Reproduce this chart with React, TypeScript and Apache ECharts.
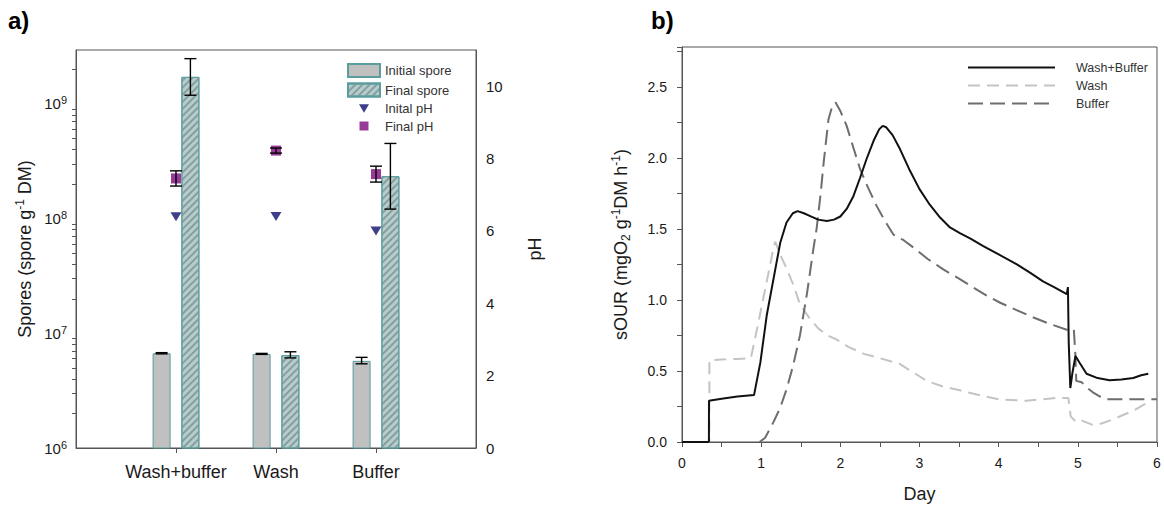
import React, { useEffect, useRef } from "react";
import * as echarts from "echarts";

// ---- Panel a: spore counts (log axis) and pH (right axis) ----
const CATEGORIES = ["Wash+buffer", "Wash", "Buffer"];
const INITIAL_SPORE = [6.7e6, 6.6e6, 5.75e6];
const INITIAL_SPORE_ERR = [
  [6.62e6, 6.78e6],
  [6.55e6, 6.68e6],
  [5.42e6, 6.17e6],
];
const FINAL_SPORE = [1.72e9, 6.45e6, 2.34e8];
const FINAL_SPORE_ERR = [
  [1.19e9, 2.48e9],
  [6.1e6, 6.9e6],
  [1.21e8, 4.52e8],
];
const INITIAL_PH = [6.39, 6.4, 6.0];
const FINAL_PH = [7.45, 8.22, 7.57];
const FINAL_PH_ERR = [
  [7.24, 7.66],
  [8.15, 8.29],
  [7.35, 7.79],
];
const SPORE_EXPONENTS = [6, 7, 8, 9];
const PH_LABELS = [0, 2, 4, 6, 8, 10];

// ---- Panel b: specific oxygen uptake rate over time ([day, sOUR]) ----
const WASH_BUFFER: number[][] = [
  [0, 0], [0.34, 0], [0.341, 0.29], [0.5, 0.305], [0.7, 0.32], [0.91, 0.33],
  [0.99, 0.56], [1.07, 0.89], [1.18, 1.22], [1.24, 1.4], [1.32, 1.545],
  [1.4, 1.61], [1.46, 1.625], [1.54, 1.61], [1.62, 1.59], [1.72, 1.565],
  [1.83, 1.555], [1.92, 1.565], [2.0, 1.587], [2.08, 1.64], [2.165, 1.73],
  [2.25, 1.86], [2.33, 1.99], [2.42, 2.12], [2.49, 2.2], [2.535, 2.225],
  [2.58, 2.215], [2.66, 2.16], [2.755, 2.06], [2.87, 1.92], [3.0, 1.78],
  [3.13, 1.67], [3.26, 1.58], [3.385, 1.51], [3.51, 1.47], [3.65, 1.43],
  [3.8, 1.38], [4.0, 1.32], [4.23, 1.25], [4.4, 1.19], [4.56, 1.13],
  [4.7, 1.09], [4.86, 1.04], [4.875, 1.09], [4.885, 0.7], [4.905, 0.38],
  [4.93, 0.48], [4.97, 0.605], [5.02, 0.56], [5.11, 0.48], [5.25, 0.45],
  [5.4, 0.435], [5.55, 0.44], [5.7, 0.45], [5.8, 0.47], [5.89, 0.48],
];
const WASH: number[][] = [
  [0, 0], [0.345, 0], [0.346, 0.575], [0.5, 0.58], [0.7, 0.585], [0.87, 0.59],
  [0.95, 0.8], [1.03, 1.02], [1.1, 1.21], [1.15, 1.35], [1.177, 1.41],
  [1.24, 1.32], [1.33, 1.21], [1.41, 1.1], [1.49, 0.97], [1.6, 0.88],
  [1.72, 0.8], [1.84, 0.75], [1.955, 0.72], [2.1, 0.67], [2.3, 0.62],
  [2.5, 0.59], [2.75, 0.55], [2.92, 0.49], [3.09, 0.43], [3.3, 0.39],
  [3.51, 0.364], [3.6, 0.35], [3.8, 0.325], [4.01, 0.3], [4.35, 0.29],
  [4.73, 0.31], [4.88, 0.31], [4.91, 0.18], [4.98, 0.14], [5.05, 0.15],
  [5.19, 0.12], [5.3, 0.13], [5.45, 0.16], [5.57, 0.19], [5.7, 0.22],
  [5.89, 0.28],
];
const BUFFER: number[][] = [
  [0.98, 0], [1.05, 0.03], [1.155, 0.14], [1.24, 0.24], [1.32, 0.37],
  [1.4, 0.53], [1.49, 0.75], [1.58, 1.05], [1.66, 1.36], [1.7, 1.5],
  [1.75, 1.74], [1.79, 1.97], [1.85, 2.27], [1.9, 2.37], [1.94, 2.39],
  [2.0, 2.33], [2.08, 2.225], [2.16, 2.08], [2.25, 1.92], [2.35, 1.79],
  [2.46, 1.66], [2.57, 1.55], [2.67, 1.46], [2.8, 1.42], [2.92, 1.37],
  [3.1, 1.29], [3.3, 1.215], [3.5, 1.15], [3.68, 1.087], [3.85, 1.03],
  [4.02, 0.98], [4.22, 0.93], [4.44, 0.876], [4.65, 0.83], [4.86, 0.79],
  [4.92, 0.8], [4.95, 0.79], [4.97, 0.6], [4.98, 0.43], [5.05, 0.42],
  [5.12, 0.38], [5.19, 0.35], [5.28, 0.32], [5.36, 0.3], [5.6, 0.3],
  [6.0, 0.3],
];
const DAY_LABELS = [0, 1, 2, 3, 4, 5, 6];
const SOUR_LABELS = [0, 0.5, 1, 1.5, 2, 2.5];

const FONT = "'Liberation Sans', Arial, sans-serif";
const AXIS_COLOR = "#555";
const TEXT_COLOR = "#1a1a1a";
const BAR_WIDTH = 18;
const BAR_GAP = 0.6;
const BAR_OFFSET = (BAR_WIDTH * (1 + BAR_GAP)) / 2;

const TRIANGLE_DOWN = "path://M0,0L10,0L5,8.5Z";
const LEGEND_TRIANGLE = "path://M0,0L0.01,0M11,2.2L21,2.2L16,10.7ZM31.99,13L32,13";
const LEGEND_SQUARE = "path://M0,0L0.01,0M11.5,2L20.5,2L20.5,11L11.5,11ZM31.99,13L32,13";

const minorLogTicks: number[] = [];
for (let e = 6; e <= 9; e++) {
  for (let m = 2; m <= 9; m++) {
    const v = m * Math.pow(10, e);
    if (v < 2.95e9) minorLogTicks.push(v);
  }
}

export default function App() {
  const ref = useRef<HTMLDivElement>(null);

  useEffect(() => {
    if (!ref.current) return;
    const chart = echarts.init(ref.current, undefined, { renderer: "svg" });

    const xCats = ["", ...CATEGORIES, " "];
    const pad = (arr: number[]) => ["-", ...arr, "-"];

    const sporeErr: number[][] = [];
    CATEGORIES.forEach((_, i) => {
      sporeErr.push([i + 1, INITIAL_SPORE_ERR[i][0], INITIAL_SPORE_ERR[i][1], -1]);
      sporeErr.push([i + 1, FINAL_SPORE_ERR[i][0], FINAL_SPORE_ERR[i][1], 1]);
    });
    const phErr = CATEGORIES.map((_, i) => [i + 1, FINAL_PH_ERR[i][0], FINAL_PH_ERR[i][1], 0]);

    const errorBarItem = (capHalf: number, offset: number) => (params: any, api: any) => {
      const xi = api.value(0);
      const lo = api.coord([xi, api.value(1)]);
      const hi = api.coord([xi, api.value(2)]);
      const x = lo[0] + api.value(3) * offset;
      const style = { stroke: "#000", lineWidth: 1.4 };
      return {
        type: "group",
        children: [
          { type: "line", shape: { x1: x, y1: lo[1], x2: x, y2: hi[1] }, style },
          { type: "line", shape: { x1: x - capHalf, y1: hi[1], x2: x + capHalf, y2: hi[1] }, style },
          { type: "line", shape: { x1: x - capHalf, y1: lo[1], x2: x + capHalf, y2: lo[1] }, style },
        ],
      };
    };

    const supRich = {
      sup: { fontSize: 11, verticalAlign: "top", lineHeight: 10, fontFamily: FONT, color: TEXT_COLOR },
    };

    const option: any = {
      animation: false,
      backgroundColor: "#fff",
      textStyle: { fontFamily: FONT },
      grid: [
        { left: 76, top: 50, width: 400, height: 398, show: true, borderColor: AXIS_COLOR, borderWidth: 1, backgroundColor: "transparent" },
        { left: 682, top: 47, width: 475, height: 396, show: true, borderColor: AXIS_COLOR, borderWidth: 1, backgroundColor: "transparent" },
      ],
      graphic: [
        { type: "text", left: 8, top: 8, style: { text: "a)", font: `bold 24px ${FONT}`, fill: "#000" } },
        { type: "text", left: 651, top: 8, style: { text: "b)", font: `bold 24px ${FONT}`, fill: "#000" } },
      ],
      legend: [
        {
          data: [
            { name: "Initial spore", icon: "rect" },
            { name: "Final spore", icon: "rect" },
            { name: "Inital pH", icon: LEGEND_TRIANGLE },
            { name: "Final pH", icon: LEGEND_SQUARE },
          ],
          orient: "vertical",
          left: 347,
          top: 63,
          padding: 0,
          itemWidth: 32,
          itemHeight: 13,
          itemGap: 4.5,
          textStyle: { fontSize: 13, color: "#333", fontFamily: FONT },
        },
        {
          data: ["Wash+Buffer", "Wash", "Buffer"],
          orient: "vertical",
          left: 967,
          top: 61,
          padding: 0,
          itemWidth: 87,
          itemHeight: 10,
          itemGap: 5,
          itemStyle: { opacity: 0 },
          textStyle: { fontSize: 12.5, color: "#333", fontFamily: FONT, padding: [0, 0, 0, 16] },
        },
      ],
      xAxis: [
        {
          gridIndex: 0,
          type: "category",
          data: xCats,
          boundaryGap: false,
          axisLine: { lineStyle: { color: AXIS_COLOR } },
          axisTick: {
            interval: (i: number) => i >= 1 && i <= CATEGORIES.length,
            length: 5,
            lineStyle: { color: AXIS_COLOR },
          },
          axisLabel: { interval: 0, fontSize: 18, color: TEXT_COLOR, margin: 15, fontFamily: FONT },
          splitLine: { show: false },
        },
        {
          gridIndex: 1,
          type: "value",
          min: 0,
          max: 6,
          interval: 0.5,
          name: "Day",
          nameLocation: "middle",
          nameGap: 43,
          nameTextStyle: { fontSize: 18, color: TEXT_COLOR, fontFamily: FONT },
          axisLine: { lineStyle: { color: AXIS_COLOR } },
          axisTick: { length: 5, lineStyle: { color: AXIS_COLOR } },
          axisLabel: {
            fontSize: 14,
            color: TEXT_COLOR,
            margin: 14,
            fontFamily: FONT,
            formatter: (v: number) => (DAY_LABELS.includes(v) ? String(v) : ""),
          },
          splitLine: { show: false },
        },
      ],
      yAxis: [
        {
          gridIndex: 0,
          type: "log",
          logBase: 10,
          min: 1e6,
          max: 2.95e9,
          position: "left",
          name: "Spores (spore g{sup|-1} DM)",
          nameLocation: "middle",
          nameGap: 40,
          nameTextStyle: { fontSize: 18, color: TEXT_COLOR, fontFamily: FONT, lineHeight: 22, rich: { sup: { fontSize: 12, verticalAlign: "top", lineHeight: 12, fontFamily: FONT, color: TEXT_COLOR } } },
          axisLine: { show: true, lineStyle: { color: AXIS_COLOR } },
          axisTick: { length: 8, lineStyle: { color: AXIS_COLOR } },
          axisLabel: {
            fontSize: 15,
            lineHeight: 18,
            color: TEXT_COLOR,
            margin: 9,
            fontFamily: FONT,
            rich: supRich,
            formatter: (v: number) => {
              const e = Math.log10(v);
              const r = Math.round(e);
              if (Math.abs(e - r) > 1e-6 || !SPORE_EXPONENTS.includes(r)) return "";
              return `10{sup|${r}}`;
            },
          },
          splitLine: { show: false },
        },
        {
          gridIndex: 0,
          type: "value",
          min: 0,
          max: 11,
          interval: 1,
          position: "right",
          name: "pH",
          nameLocation: "middle",
          nameGap: 50,
          nameTextStyle: { fontSize: 18, color: TEXT_COLOR, fontFamily: FONT },
          axisLine: { show: true, lineStyle: { color: AXIS_COLOR } },
          axisTick: { length: 6, lineStyle: { color: AXIS_COLOR } },
          axisLabel: {
            fontSize: 15,
            color: TEXT_COLOR,
            margin: 10,
            fontFamily: FONT,
            formatter: (v: number) => (PH_LABELS.includes(v) ? String(v) : ""),
          },
          splitLine: { show: false },
        },
        {
          gridIndex: 0,
          type: "log",
          logBase: 10,
          min: 1e6,
          max: 2.95e9,
          position: "left",
          axisLine: { show: false },
          axisLabel: { show: false },
          axisTick: { show: true, length: 4, customValues: minorLogTicks, lineStyle: { color: AXIS_COLOR } },
          splitLine: { show: false },
        },
        {
          gridIndex: 1,
          type: "value",
          min: 0,
          max: 2.78,
          interval: 0.25,
          name: "sOUR (mgO{sub|2} g{sup|-1}DM h{sup|-1})",
          nameLocation: "middle",
          nameGap: 50,
          nameTextStyle: {
            fontSize: 18,
            color: TEXT_COLOR,
            fontFamily: FONT,
            lineHeight: 22,
            rich: {
              sup: { fontSize: 12, verticalAlign: "top", lineHeight: 12, fontFamily: FONT, color: TEXT_COLOR },
              sub: { fontSize: 12, verticalAlign: "bottom", lineHeight: 12, fontFamily: FONT, color: TEXT_COLOR },
            },
          },
          axisLine: { show: true, lineStyle: { color: AXIS_COLOR } },
          axisTick: { length: 5, lineStyle: { color: AXIS_COLOR } },
          axisLabel: {
            fontSize: 14,
            color: TEXT_COLOR,
            margin: 15,
            fontFamily: FONT,
            formatter: (v: number) =>
              SOUR_LABELS.some((s) => Math.abs(s - v) < 1e-9) ? v.toFixed(1) : "",
          },
          splitLine: { show: false },
        },
      ],
      series: [
        {
          name: "Initial spore",
          type: "bar",
          xAxisIndex: 0,
          yAxisIndex: 0,
          data: pad(INITIAL_SPORE),
          barWidth: BAR_WIDTH,
          barGap: `${BAR_GAP * 100}%`,
          itemStyle: { color: "#c0c0c0", borderColor: "#5b9d9d", borderWidth: 1 },
        },
        {
          name: "Final spore",
          type: "bar",
          xAxisIndex: 0,
          yAxisIndex: 0,
          data: pad(FINAL_SPORE),
          barWidth: BAR_WIDTH,
          barGap: `${BAR_GAP * 100}%`,
          itemStyle: {
            color: "#b8cccc",
            borderColor: "#5b9d9d",
            borderWidth: 1,
            decal: {
              symbol: "rect",
              symbolSize: 1,
              color: "#849f9f",
              dashArrayX: [1, 0],
              dashArrayY: [1.2, 3],
              rotation: -Math.PI / 4,
            },
          },
        },
        {
          name: "Inital pH",
          type: "scatter",
          xAxisIndex: 0,
          yAxisIndex: 1,
          symbol: TRIANGLE_DOWN,
          symbolSize: [11, 9],
          data: INITIAL_PH.map((v, i) => [i + 1, v]),
          itemStyle: { color: "#0e0e6e" },
          z: 4,
        },
        {
          name: "Final pH",
          type: "scatter",
          xAxisIndex: 0,
          yAxisIndex: 1,
          symbol: "rect",
          symbolSize: 10,
          data: FINAL_PH.map((v, i) => [i + 1, v]),
          itemStyle: { color: "#7d0a7d" },
          z: 4,
        },
        {
          type: "custom",
          xAxisIndex: 0,
          yAxisIndex: 0,
          renderItem: errorBarItem(6, BAR_OFFSET),
          data: sporeErr,
          z: 5,
          silent: true,
        },
        {
          type: "custom",
          xAxisIndex: 0,
          yAxisIndex: 1,
          renderItem: errorBarItem(6, 0),
          data: phErr,
          z: 5,
          silent: true,
        },
        {
          name: "Wash+Buffer",
          type: "line",
          xAxisIndex: 1,
          yAxisIndex: 3,
          data: WASH_BUFFER,
          symbol: "none",
          lineStyle: { color: "#111", width: 2 },
          itemStyle: { color: "#111" },
          z: 4,
        },
        {
          name: "Wash",
          type: "line",
          xAxisIndex: 1,
          yAxisIndex: 3,
          data: WASH,
          symbol: "none",
          lineStyle: { color: "#c4c4c4", width: 2, type: [12, 7] },
          itemStyle: { color: "#c4c4c4" },
          z: 2,
        },
        {
          name: "Buffer",
          type: "line",
          xAxisIndex: 1,
          yAxisIndex: 3,
          data: BUFFER,
          symbol: "none",
          lineStyle: { color: "#6e6e6e", width: 2, type: [15, 7] },
          itemStyle: { color: "#6e6e6e" },
          z: 3,
        },
      ],
    };

    chart.setOption(option);
    return () => chart.dispose();
  }, []);

  return (
    <div
      ref={ref}
      style={{ position: "absolute", left: 0, top: 0, width: 1164, height: 508, background: "#fff" }}
    />
  );
}
